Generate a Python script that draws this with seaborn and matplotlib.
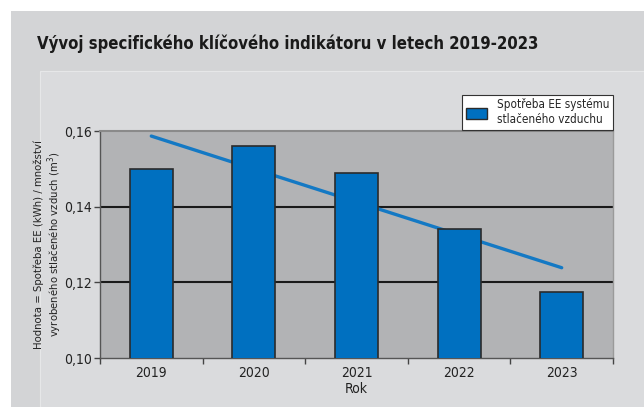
import matplotlib
matplotlib.use("Agg")
import matplotlib.pyplot as plt
import matplotlib.patches as mpatches
import seaborn as sns
import numpy as np
import pandas as pd

roky = ["2019", "2020", "2021", "2022", "2023"]
hodnoty = [0.150, 0.156, 0.1488, 0.134, 0.1175]
y_ticks = [0.10, 0.12, 0.14, 0.16]
y_labels = ["0,10", "0,12", "0,14", "0,16"]

df = pd.DataFrame({"Rok": roky, "Hodnota": hodnoty})

sns.set_theme(style="white")
plt.rcParams["font.family"] = ["DejaVu Sans"]
plt.rcParams["font.stretch"] = "condensed"

blue = "#0070c0"

fig = plt.figure(figsize=(6.44, 4.07), dpi=100)
fig.patch.set_facecolor("white")

# grey panel behind the chart
fig.patches.append(mpatches.Rectangle((11 / 644, 0), 1, 1 - 11 / 407, transform=fig.transFigure,
                                      facecolor="#d3d4d6", edgecolor="none", zorder=-2))
fig.patches.append(mpatches.Rectangle((40 / 644, 0), 1, 1 - 71 / 407, transform=fig.transFigure,
                                      facecolor="#dadbdd", edgecolor="#e6e7e8", lw=0.8, zorder=-1))

fig.text(37 / 644, 1 - 44 / 407, "Vývoj specifického klíčového indikátoru v letech 2019-2023",
         fontsize=12, fontweight="bold", color="#1a1a1a", va="center")

ax = fig.add_axes([100 / 644, 49 / 407, 513 / 644, 227 / 407])
ax.set_facecolor("#b2b3b5")

sns.barplot(data=df, x="Rok", y="Hodnota", color=blue, width=0.42, saturation=1,
            edgecolor="#2b2b2b", linewidth=1.2, ax=ax, zorder=3)

# linear trend line
sns.regplot(x=np.arange(len(hodnoty)), y=hodnoty, ci=None, scatter=False, truncate=True,
            color="#1479c4", line_kws={"linewidth": 2.4, "zorder": 2}, ax=ax)

ax.set_xlim(-0.5, len(roky) - 0.5)
ax.set_ylim(0.10, 0.16)
ax.set_yticks(y_ticks)
ax.set_yticklabels(y_labels)
ax.set_xticks(range(len(roky)))
ax.set_xticklabels(roky)
ax.set_xticks(np.arange(-0.5, len(roky)), minor=True)
ax.tick_params(axis="x", which="major", length=0, pad=6, labelsize=10, colors="#222222")
ax.tick_params(axis="x", which="minor", length=4, width=1, color="#444444", direction="out")
ax.tick_params(axis="y", length=4, width=1, color="#444444", labelsize=10, labelcolor="#222222", pad=2)
ax.xaxis.set_ticks_position("bottom")
ax.yaxis.set_ticks_position("left")

for y in y_ticks[1:3]:
    ax.axhline(y, color="#1a1a1a", lw=1.5, zorder=1)

for side in ["left", "bottom"]:
    ax.spines[side].set_color("#555555")
    ax.spines[side].set_linewidth(1)
ax.spines["top"].set_color("#8a8a8a")
ax.spines["top"].set_linewidth(1.5)
ax.spines["right"].set_color("#9a9a9a")
ax.spines["right"].set_linewidth(1)

ax.set_xlabel("Rok", fontsize=10, color="#222222", labelpad=1)
ax.set_ylabel("Hodnota = Spotřeba EE (kWh) / množství\nvyrobeného stlačeného vzduch (m$^3$)",
              fontsize=8.1, color="#222222", linespacing=1.1)
ax.yaxis.set_label_coords(-0.07, 0.5)

handle = mpatches.Patch(facecolor=blue, edgecolor="#2b2b2b", lw=1)
leg = ax.legend([handle], ["Spotřeba EE systému\nstlačeného vzduchu"], loc="upper right",
                bbox_to_anchor=(1.0, 1.159), borderaxespad=0, frameon=True, fancybox=False,
                fontsize=8.4, handlelength=1.8, handleheight=1.0, borderpad=0.3,
                handletextpad=0.9, labelspacing=0.2)
leg.get_frame().set_edgecolor("#333333")
leg.get_frame().set_linewidth(0.8)
leg.get_frame().set_facecolor("white")
leg.get_frame().set_alpha(1)

fig.savefig("out.png", dpi=100)
